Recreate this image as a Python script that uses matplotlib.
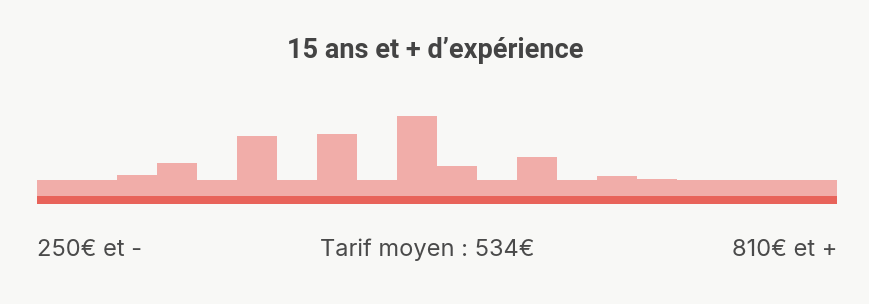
import numpy as np
import matplotlib
matplotlib.use('Agg')
import matplotlib.pyplot as plt

# Histogram of rates, 20 bins from 250€ to 810€
bin_heights = [16, 16, 21, 33, 16, 60, 16, 62, 16, 80,
               30, 16, 39, 16, 20, 17, 16, 16, 16, 16]
title = "15 ans et + d\u2019exp\u00e9rience"
label_low = "250\u20ac et -"
label_mean = "Tarif moyen : 534\u20ac"
label_high = "810\u20ac et +"

bg = '#f8f8f6'
pink = '#f1ada9'
red = '#e8635a'

W, H = 870, 304
fig = plt.figure(figsize=(W/100, H/100), dpi=100, facecolor=bg)

# axes spanning bars area in pixel-like units
left, right, top, bottom = 37, 837, 100, 204
ax = fig.add_axes([left/W, (H-bottom)/H, (right-left)/W, (bottom-top)/H])
ax.set_facecolor(bg)
n = len(bin_heights)
ax.bar(np.arange(n), bin_heights, width=1.0, align='edge', color=pink, lw=0)
ax.axhspan(-8, 0, color=red, lw=0)
ax.set_xlim(0, n)
ax.set_ylim(-8, bottom-top-8)
ax.axis('off')

fig.text(435/W, 1-58/H, title, ha='center', va='baseline', fontsize=19.5,
         fontweight='bold', family='Roboto', stretch='condensed', color='#444444')

ty = 1 - 256/H
kw = dict(va='baseline', fontsize=17, family='Inter', color='#4a4a4a')
fig.text(left/W, ty, label_low, ha='left', **kw)
fig.text(427/W, ty, label_mean, ha='center', **kw)
fig.text(right/W, ty, label_high, ha='right', **kw)

fig.savefig('out.png', dpi=100, facecolor=bg)
